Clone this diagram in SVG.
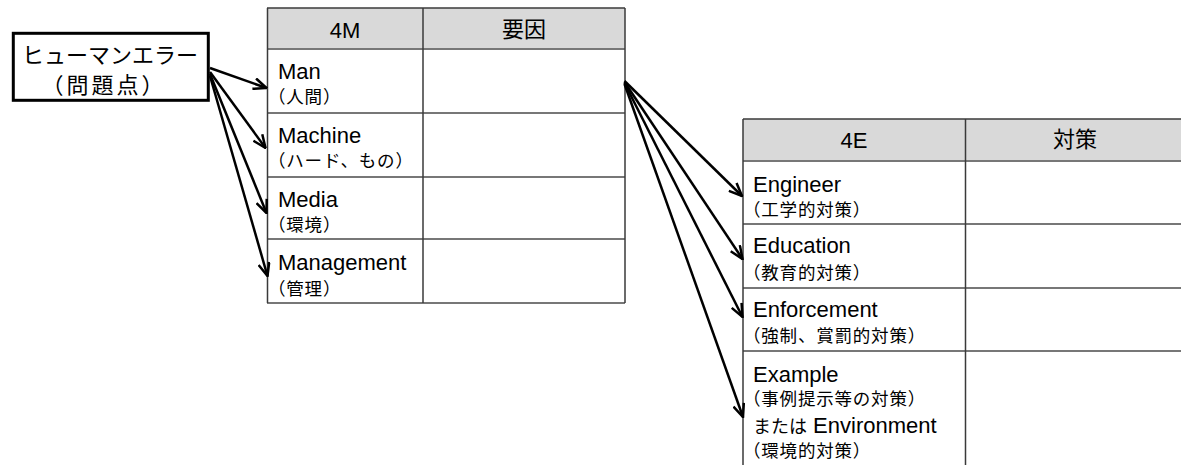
<svg xmlns="http://www.w3.org/2000/svg" width="1181" height="465" viewBox="0 0 1181 465">
<defs>
<style>
.bg{fill:#ffffff}
.hdr{fill:#d9d9d9}
.outer{stroke:#3a3a3a;stroke-width:1.5;fill:none}
.inner{stroke:#777777;stroke-width:2;fill:none}
.en{font-family:"Liberation Sans","Noto Sans CJK JP",sans-serif;font-size:22px;fill:#000}
.jp{font-family:"Noto Sans CJK JP",sans-serif;font-size:17.5px;letter-spacing:0.8px;fill:#000}
.hd{font-family:"Liberation Sans","Noto Sans CJK JP",sans-serif;font-size:22px;fill:#000;text-anchor:middle}
.hdj{font-family:"Noto Sans CJK JP",sans-serif;font-size:22px;fill:#000;text-anchor:middle}
.box{fill:#fff;stroke:#000;stroke-width:3}
.boxt{font-family:"Noto Sans CJK JP",sans-serif;font-size:22px;fill:#000;text-anchor:middle}
.conn{stroke:#000;stroke-width:2.5;fill:none;marker-end:url(#arr)}
</style>
<marker id="arr" viewBox="0 0 15 13" refX="14" refY="6.5" markerWidth="15" markerHeight="13" orient="auto" markerUnits="userSpaceOnUse">
<path d="M1,1 L14,6.5 L1,12" fill="none" stroke="#000" stroke-width="2.5" stroke-linejoin="miter"/>
</marker>
</defs>
<rect class="bg" x="0" y="0" width="1181" height="465"/>

<g id="human-error">
<rect class="box" x="13.3" y="33.3" width="195" height="67"/>
<text class="boxt" x="110" y="63">ヒューマンエラー</text>
<text class="boxt" x="104" y="93" letter-spacing="3">（問題点）</text>
</g>

<g id="table-4m">
<rect class="hdr" x="267" y="8" width="358" height="41"/>
<g class="inner">
<line x1="267" y1="49" x2="625" y2="49"/>
<line x1="267" y1="113" x2="625" y2="113"/>
<line x1="267" y1="177" x2="625" y2="177"/>
<line x1="267" y1="239" x2="625" y2="239"/>
<line x1="267" y1="303" x2="625" y2="303"/>
</g>
<g class="outer">
<line x1="267" y1="8" x2="625" y2="8"/>
<line x1="267.5" y1="8" x2="267.5" y2="303"/>
<line x1="625" y1="8" x2="625" y2="303"/>
<line x1="423" y1="8" x2="423" y2="303"/>
</g>
<text class="hd" x="345" y="38">4M</text>
<text class="hdj" x="524" y="37">要因</text>
<g id="row-man"><text class="en" x="278" y="79">Man</text><text class="jp" x="268" y="103">（人間）</text></g>
<g id="row-machine"><text class="en" x="278" y="143">Machine</text><text class="jp" x="268" y="167">（ハード、もの）</text></g>
<g id="row-media"><text class="en" x="278" y="207">Media</text><text class="jp" x="268" y="231">（環境）</text></g>
<g id="row-management"><text class="en" x="278" y="270">Management</text><text class="jp" x="268" y="295">（管理）</text></g>
</g>

<g id="table-4e">
<rect class="hdr" x="743" y="119" width="438" height="42"/>
<g class="inner">
<line x1="743" y1="161" x2="1181" y2="161"/>
<line x1="743" y1="224" x2="1181" y2="224"/>
<line x1="743" y1="288" x2="1181" y2="288"/>
<line x1="743" y1="351" x2="1181" y2="351"/>
</g>
<g class="outer">
<line x1="743" y1="119" x2="1181" y2="119"/>
<line x1="743" y1="119" x2="743" y2="465"/>
<line x1="965.5" y1="119" x2="965.5" y2="465"/>
</g>
<text class="hd" x="854" y="148">4E</text>
<text class="hdj" x="1075" y="147">対策</text>
<g id="row-engineer"><text class="en" x="753" y="192">Engineer</text><text class="jp" x="743" y="216">（工学的対策）</text></g>
<g id="row-education"><text class="en" x="753" y="253">Education</text><text class="jp" x="743" y="279">（教育的対策）</text></g>
<g id="row-enforcement"><text class="en" x="753" y="317">Enforcement</text><text class="jp" x="743" y="342">（強制、賞罰的対策）</text></g>
<g id="row-example"><text class="en" x="753" y="382">Example</text><text class="jp" x="743" y="405">（事例提示等の対策）</text>
<text class="en" x="753" y="433"><tspan font-family="Noto Sans CJK JP,sans-serif" font-size="18">または</tspan> Environment</text>
<text class="jp" x="743" y="457">（環境的対策）</text></g>
</g>

<g id="connectors">
<line class="conn" x1="210" y1="68" x2="266.5" y2="88"/>
<line class="conn" x1="210" y1="72" x2="265.5" y2="148"/>
<line class="conn" x1="210" y1="74" x2="266.5" y2="213"/>
<line class="conn" x1="210" y1="76" x2="267.5" y2="276"/>
<line class="conn" x1="624.5" y1="81" x2="742" y2="196"/>
<line class="conn" x1="624.5" y1="82" x2="742.5" y2="259"/>
<line class="conn" x1="624.5" y1="83" x2="742.5" y2="317"/>
<line class="conn" x1="624.5" y1="84" x2="743" y2="417"/>
</g>
</svg>
